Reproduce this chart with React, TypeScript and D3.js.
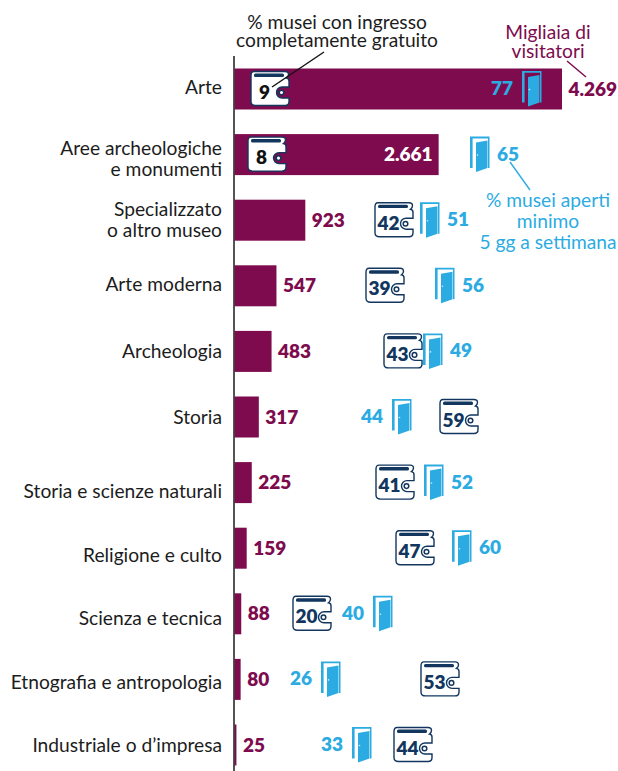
import React from "react";
import * as d3 from "d3";

const categories = [
  ["Arte"],
  ["Aree archeologiche", "e monumenti"],
  ["Specializzato", "o altro museo"],
  ["Arte moderna"],
  ["Archeologia"],
  ["Storia"],
  ["Storia e scienze naturali"],
  ["Religione e culto"],
  ["Scienza e tecnica"],
  ["Etnografia e antropologia"],
  ["Industriale o d’impresa"],
];
const visitors = [4269, 2661, 923, 547, 483, 317, 225, 159, 88, 80, 25];
const freeEntry = [9, 8, 42, 39, 43, 59, 41, 47, 20, 53, 44];
const openDays = [77, 65, 51, 56, 49, 44, 52, 60, 40, 26, 33];
const doorLabelBefore = [true, false, false, false, false, true, false, false, true, true, true];

const W = 618, H = 771;
const FONT = "Lato, 'Noto Sans', sans-serif";
const BURGUNDY = "#7e0b4d";
const BLUE = "#2cabe2";
const NAVY = "#12365e";
const fmt = d3.formatLocale({ decimal: ",", thousands: ".", grouping: [3], currency: ["", "€"] }).format(",d");

const xBar = d3.scaleLinear().domain([0, 4269]).range([234.5, 562]);
const yRow = d3.scalePoint<number>().domain(d3.range(categories.length)).range([89, 745]);
// The labels and icons are placed by hand in the source; these scales follow that uneven spacing.
const yLabel = d3.scaleLinear()
  .domain(d3.range(categories.length))
  .range([87, 159, 219.5, 284, 351, 417, 491, 555, 618, 682, 745]);
const xWallet = d3.scaleLinear()
  .domain([8, 9, 20, 39, 41, 42, 43, 44, 47, 53, 59])
  .range([247, 250, 292, 365, 375, 374, 383, 393, 395, 420, 439]);
const xDoor = d3.scaleLinear()
  .domain([26, 33, 40, 44, 49, 51, 52, 56, 60, 65, 77])
  .range([321, 352, 373, 392, 423, 420, 424, 435, 452, 470, 522]);

function Wallet({ x, y, value }: { x: number; y: number; value: number }) {
  const small = value < 10;
  return (
    <g transform={`translate(${x},${y})`}>
      <path
        d="M4,1 H35 Q38.5,1 38.5,4 Q38.5,6 36.5,7.5 Q39,8 39,10.5 V16.5 H32 A5,5 0 0 0 32,27.5 H39 V31 Q39,35 35,35 H5.5 Q1,35 1,31 V5 Q1,1 4,1 Z"
        fill="#fff" stroke={NAVY} strokeWidth={1.4}
      />
      <rect x={4} y={3} width={30} height={3.4} rx={1.5} fill={NAVY} />
      <circle cx={31.5} cy={22} r={2.3} fill="#fff" stroke={NAVY} strokeWidth={1.5} />
      <text x={small ? 14.5 : 14.5} y={28} textAnchor="middle" fontFamily={FONT} fontWeight={800} fontSize={19}
        fill={small ? "#111" : NAVY}>{value}</text>
    </g>
  );
}

function Door({ x, y }: { x: number; y: number }) {
  return (
    <g transform={`translate(${x},${y})`}>
      <path d="M0,31.5 V0 H19.5 V31.5 H18 V1.8 H2.6 V31.5 Z" fill={BLUE} />
      <path d="M6,6 L17.5,4 V31.5 L6,35.5 Z" fill={BLUE} />
      <circle cx={7.5} cy={18.5} r={0.8} fill="#cdeaf8" />
    </g>
  );
}

export default function App() {
  const labelSize = 19.2;
  const numSize = 19;
  return (
    <svg width={W} height={H} style={{ position: "absolute", left: 0, top: 0 }} fontFamily={FONT}>
      <rect width={W} height={H} fill="#fff" />
      {visitors.map((v, i) => (
        <rect key={i} x={xBar(0)} y={yRow(i)! - 20.5} width={xBar(v) - xBar(0)} height={41} fill={BURGUNDY} />
      ))}
      <line x1={234} x2={234} y1={56} y2={H} stroke="#2a2a2a" strokeWidth={1.6} />

      {categories.map((lines, i) => (
        <text key={i} textAnchor="end" fontSize={labelSize} fill="#1c1c1c">
          {lines.map((t, k) => (
            <tspan key={k} x={222} y={yLabel(i) + 6.5 + (k - (lines.length - 1) / 2) * 21}>{t}</tspan>
          ))}
        </text>
      ))}

      {visitors.map((v, i) => (
        <text key={i} x={i === 1 ? xBar(v) - 6 : xBar(v) + 6.5} y={yRow(i)! + 6.5}
          textAnchor={i === 1 ? "end" : "start"} fontWeight={800} fontSize={numSize}
          fill={i === 1 ? "#fff" : BURGUNDY}>{fmt(v)}</text>
      ))}

      {freeEntry.map((v, i) => (
        <Wallet key={i} x={xWallet(v)} y={yRow(i)! - 18.5} value={v} />
      ))}

      {openDays.map((v, i) => {
        const x = xDoor(v);
        const before = doorLabelBefore[i];
        return (
          <g key={i}>
            <Door x={x} y={yRow(i)! - 18} />
            <text x={before ? x - 9 : x + 27} y={yRow(i)! + 6} textAnchor={before ? "end" : "start"}
              fontWeight={800} fontSize={numSize} fill={BLUE}>{v}</text>
          </g>
        );
      })}

      <text textAnchor="middle" fontSize={19.2} fill="#1c1c1c">
        <tspan x={337} y={29}>% musei con ingresso</tspan>
        <tspan x={337} y={47}>completamente gratuito</tspan>
      </text>
      <line x1={324} y1={52} x2={272} y2={87} stroke="#111" strokeWidth={1.4} />

      <text textAnchor="middle" fontSize={19.2} fill={BURGUNDY}>
        <tspan x={548} y={39}>Migliaia di</tspan>
        <tspan x={548} y={58}>visitatori</tspan>
      </text>
      <line x1={567} y1={61} x2={586} y2={77} stroke={BURGUNDY} strokeWidth={1.4} />

      <text textAnchor="middle" fontSize={19.2} fill={BLUE}>
        <tspan x={548} y={207}>% musei aperti</tspan>
        <tspan x={548} y={228}>minimo</tspan>
        <tspan x={548} y={249}>5 gg a settimana</tspan>
      </text>
      <line x1={510} y1={162} x2={530} y2={190} stroke={BLUE} strokeWidth={1.4} />
    </svg>
  );
}
